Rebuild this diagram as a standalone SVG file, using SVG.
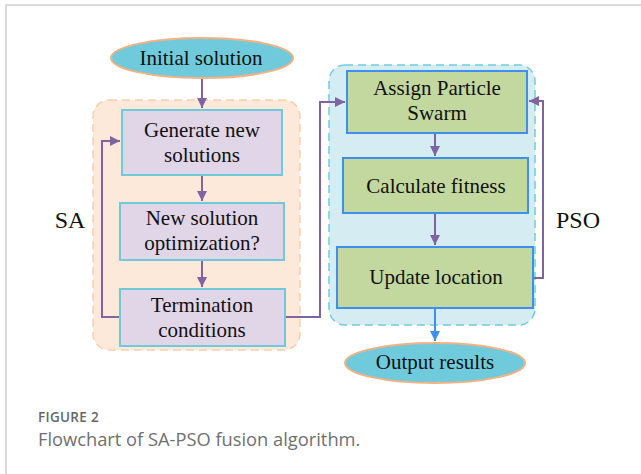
<svg xmlns="http://www.w3.org/2000/svg" width="641" height="474" viewBox="0 0 641 474">
<style>
.t{font-family:"Liberation Serif","Times New Roman",serif;font-size:21px;fill:#111;text-anchor:middle}
.lbl{font-family:"Liberation Serif","Times New Roman",serif;font-size:24px;fill:#111;text-anchor:middle}
.ell{fill:#6fcbdc;stroke:#f4b183;stroke-width:2}
.sa{fill:#e1d6e7;stroke:#6fcbdc;stroke-width:2}
.pso{fill:#c3d89e;stroke:#3e90ee;stroke-width:2}
.c{fill:none;stroke:#8064a2;stroke-width:2}
.cb{fill:none;stroke:#3e90ee;stroke-width:2}
</style>
<defs>
<marker id="ap" viewBox="0 0 10 10" refX="10" refY="5" markerWidth="5" markerHeight="5" orient="auto"><path d="M0,0 L10,5 L0,10 z" fill="#8064a2"/></marker>
<marker id="ab" viewBox="0 0 10 10" refX="10" refY="5" markerWidth="5" markerHeight="5" orient="auto"><path d="M0,0 L10,5 L0,10 z" fill="#3e90ee"/></marker>
</defs>
<rect width="641" height="474" fill="#fff"/>
<path d="M6,474 V5 H641" fill="none" stroke="#d0d0d0" stroke-width="1.5"/>
<g id="sa-group">
<rect x="93" y="100" width="207" height="250" rx="16" fill="#fde9da" stroke="#f8cfae" stroke-width="1.5" stroke-dasharray="8,5"/>
<text class="lbl" x="70" y="228">SA</text>
</g>
<g id="pso-group">
<rect x="329" y="65" width="206" height="260" rx="16" fill="#d5ecf2" stroke="#6fcbdc" stroke-width="1.5" stroke-dasharray="8,5"/>
<text class="lbl" x="578" y="228">PSO</text>
</g>
<g id="connectors">
<path class="c" d="M202,78 V108" marker-end="url(#ap)"/>
<path class="c" d="M202,175 V201" marker-end="url(#ap)"/>
<path class="c" d="M202,260 V287" marker-end="url(#ap)"/>
<path class="c" d="M120,317 H102 V141 H120" marker-end="url(#ap)"/>
<path class="c" d="M285,317 H320 V102 H345" marker-end="url(#ap)"/>
<path class="c" d="M435,133 V156" marker-end="url(#ap)"/>
<path class="c" d="M435,213 V245" marker-end="url(#ap)"/>
<path class="c" d="M533,278 H543 V101 H529" marker-end="url(#ap)"/>
<path class="cb" d="M435,308 V341" marker-end="url(#ab)"/>
</g>
<g id="initial">
<ellipse class="ell" cx="202" cy="58" rx="91" ry="20"/>
<text class="t" x="201" y="65">Initial solution</text>
</g>
<g id="generate">
<rect class="sa" x="122" y="110" width="160" height="65"/>
<text class="t" x="202" y="137">Generate new</text>
<text class="t" x="202" y="162">solutions</text>
</g>
<g id="optimize">
<rect class="sa" x="120" y="203" width="164" height="57"/>
<text class="t" x="202" y="225">New solution</text>
<text class="t" x="202" y="250">optimization?</text>
</g>
<g id="termination">
<rect class="sa" x="120" y="289" width="165" height="57"/>
<text class="t" x="202" y="312">Termination</text>
<text class="t" x="202" y="337">conditions</text>
</g>
<g id="assign">
<rect class="pso" x="347" y="71" width="180" height="62"/>
<text class="t" x="437" y="95">Assign Particle</text>
<text class="t" x="437" y="120">Swarm</text>
</g>
<g id="fitness">
<rect class="pso" x="343" y="158" width="185" height="55"/>
<text class="t" x="436" y="193">Calculate fitness</text>
</g>
<g id="update">
<rect class="pso" x="337" y="247" width="196" height="61"/>
<text class="t" x="436" y="284">Update location</text>
</g>
<g id="output">
<ellipse class="ell" cx="435" cy="363" rx="90" ry="20"/>
<text class="t" x="435" y="369">Output results</text>
</g>
<g id="caption">
<text x="38" y="422" font-family="'Open Sans','Noto Sans',sans-serif" font-size="13.5" font-weight="600" letter-spacing="0.3" fill="#666">FIGURE 2</text>
<text x="38" y="446" font-family="'Open Sans','Noto Sans',sans-serif" font-size="18.3" fill="#707070">Flowchart of SA-PSO fusion algorithm.</text>
</g>
</svg>
